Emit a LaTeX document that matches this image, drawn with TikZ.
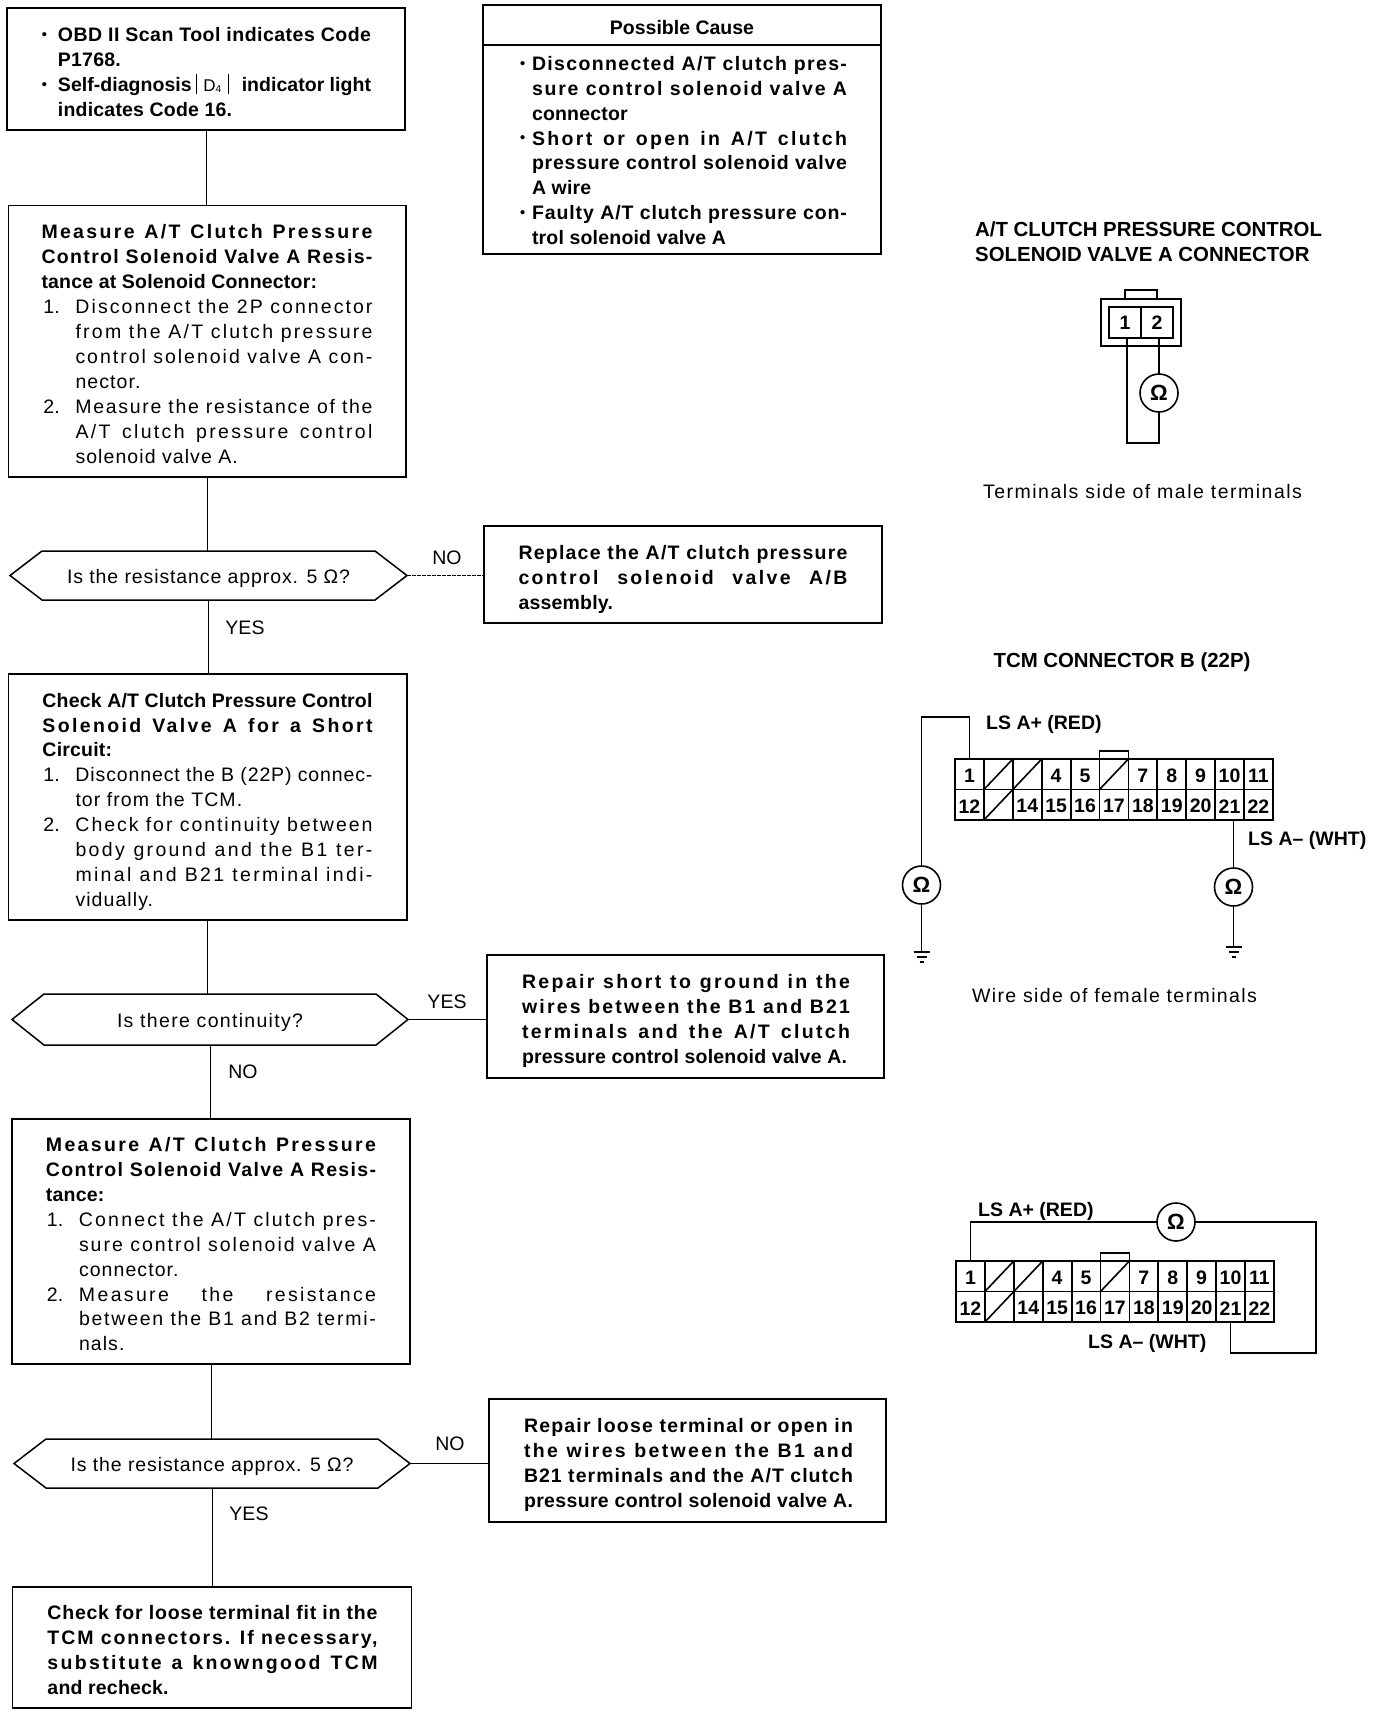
\documentclass[tikz,border=0pt]{standalone}
\usepackage{graphicx}
\usepackage{fontspec}
\setmainfont{Liberation Sans}
\newbox\jbb
\newbox\jba
\newcount\jL
\newcommand\st{\vrule height17pt depth4pt width0pt}
\makeatletter
\newcommand\jbox[2]{\setbox\jbb=\hbox{\addfontfeature{LetterSpace=0}#2}%
  \ifdim\wd\jbb>#1\relax\resizebox{#1}{\height}{\box\jbb}\else
    \setbox\jba=\hbox{\addfontfeature{LetterSpace=10}#2}%
    \jL=\numexpr\dimexpr#1-\wd\jbb\relax*100/\dimexpr\wd\jba-\wd\jbb\relax\relax
    \ifnum\jL>120 \jL=120 \fi
    \edef\jLs{\strip@pt\dimexpr\the\jL pt/10\relax}%
    \edef\jLc{\noexpand\addfontfeature{LetterSpace=\jLs}}%
    \setbox\jbb=\hbox{\jLc #2}%
    \hbox to #1{\unhbox\jbb}\fi}
\makeatother
\def\lsp{1}
\newcommand\Rg{\mdseries\def\lsp{5.5}}
% justified line: indent, width, text
\newcommand\Jl[3]{\hbox to\hsize{\st\hskip#1\relax\jbox{#2}{#3}\hss}}
% plain line: indent, text
\newcommand\Ll[2]{\hbox to\hsize{\st\hskip#1\relax\addfontfeature{LetterSpace=\lsp}#2\hss}}
% justified line with marker: marker, marker offset, indent, width, text
\newcommand\Jx[5]{\hbox to\hsize{\st\hskip#2\relax\hbox to\dimexpr#3-#2\relax{#1\hss}\jbox{#4}{#5}\hss}}
\newcommand\Bx[3][6.5pt]{\vbox{\hsize=#2\relax\baselineskip=24.9pt\lineskiplimit=-20pt\kern#1 #3}}
% node text moved down by half of the kern
\newcommand\Dn[2]{\vbox{\kern#1\hbox{#2}}}
\newcommand\Bul{\raisebox{.2ex}{\scalebox{.75}{\textbullet}}}
\newcommand\Dfour{\rule[-3pt]{1pt}{20pt}\hbox to 31pt{\hss\mdseries\fontsize{17}{17}\selectfont D\raisebox{-1.5pt}{\fontsize{10}{10}\selectfont 4}\hss}\rule[-3pt]{1pt}{20pt}}
\tikzset{
  x=1pt,y=-1pt,
  bline/.style={line width=1.5pt,line join=miter},
  conn/.style={line width=1pt},
  wire/.style={line width=1.7pt},
  reg/.style={font=\fontsize{19.5}{25}\selectfont},
  bld/.style={font=\fontsize{19.5}{25}\selectfont\bfseries},
  ttl/.style={font=\fontsize{20.4}{25}\selectfont\bfseries},
  bx/.style={draw,line width=1.5pt,inner sep=0pt,outer sep=0pt,bld},
  hexn/.style={inner sep=0pt,outer sep=0pt,reg},
  lab/.style={inner sep=0pt,reg},
  blab/.style={inner sep=0pt,bld},
  ohm/.style={draw,circle,line width=1.6pt,minimum size=38pt,inner sep=0pt,outer sep=0pt,font=\fontsize{22}{22}\selectfont\bfseries},
  cell/.style={draw,line width=1.8pt,minimum width=28.9pt,minimum height=30.5pt,inner sep=0pt,outer sep=0pt,font=\fontsize{19.5}{20}\selectfont\bfseries}
}
\newcommand\HX[1]{\draw[bline] (#1.west) -- ([xshift=32pt]#1.north west) -- ([xshift=-32pt]#1.north east) -- (#1.east) -- ([xshift=-32pt]#1.south east) -- ([xshift=32pt]#1.south west) -- cycle;}
\newcommand\GND[1]{\draw[line width=1.2pt] ([xshift=-8pt]#1) -- ([xshift=8pt]#1) ([xshift=-5pt,yshift=-5pt]#1) -- ([xshift=5pt,yshift=-5pt]#1) ([xshift=-2pt,yshift=-10pt]#1) -- ([xshift=2pt,yshift=-10pt]#1);}
\newcommand\TCM[3]{%
  \foreach \n/\t/\c in {1/1/1,2//2,3//3,4/4/4,5/5/5,6//6,7/7/7,8/8/8,9/9/9,10/10/10,11/11/11}
    \node[cell] (#1c\n) at ({#2+(\c-.5)*28.9},{#3+15.25}) {\Dn{3pt}{\t}};
  \foreach \n/\t/\c in {12/12/1,13//2,14/14/3,15/15/4,16/16/5,17/17/6,18/18/7,19/19/8,20/20/9,21/21/10,22/22/11}
    \node[cell] (#1c\n) at ({#2+(\c-.5)*28.9},{#3+45.75}) {\Dn{3pt}{\t}};
  \foreach \n in {2,3,6,13} \draw[line width=1.6pt] (#1c\n.south west) -- (#1c\n.north east);
  \draw[line width=2.3pt] (#1c1.north west) rectangle (#1c22.south east);
  \draw[line width=1.6pt] (#1c6.north west) -- ++(0,-8) -| (#1c6.north east);
}
\begin{document}
\begin{tikzpicture}
\useasboundingbox (0,0) rectangle (1376,1716);
\fill[white] (0,0) rectangle (1376,1716);

% left column
\node[bx,minimum width=398pt,minimum height=122pt] (start) at (206,69) {\Bx{398pt}{%
  \Jx{\Bul}{35pt}{51pt}{313pt}{OBD II Scan Tool indicates Code}
  \Ll{51pt}{P1768.}
  \Jx{\Bul}{35pt}{51pt}{313pt}{Self-diagnosis\hskip4pt\Dfour\hskip13pt indicator light}
  \Ll{51pt}{indicates Code 16.}}};

\node[bx,minimum width=397.5pt,minimum height=271.5pt] (m1) at (207.25,341.25) {\Bx{397.5pt}{%
  \Jl{33pt}{331pt}{Measure A/T Clutch Pressure}
  \Jl{33pt}{331pt}{Control Solenoid Valve A Resis-}
  \Ll{33pt}{tance at Solenoid Connector:}
  \Rg
  \Jx{1.}{35pt}{67pt}{297pt}{Disconnect the 2P connector}
  \Jl{67pt}{297pt}{from the A/T clutch pressure}
  \Jl{67pt}{297pt}{control solenoid valve A con-}
  \Ll{67pt}{nector.}
  \Jx{2.}{35pt}{67pt}{297pt}{Measure the resistance of the}
  \Jl{67pt}{297pt}{A/T clutch pressure control}
  \Ll{67pt}{solenoid valve A.}}};

\node[hexn,minimum width=397pt,minimum height=49pt] (d1) at (208.5,575.5) {\Dn{6pt}{\jbox{283pt}{Is the resistance approx. 5 Ω?}}};
\HX{d1}

\node[bx,minimum width=398pt,minimum height=97pt] (r1) at (683,574.5) {\Bx{398pt}{%
  \Jl{34.5pt}{329pt}{Replace the A/T clutch pressure}
  \Jl{34.5pt}{329pt}{control solenoid valve A/B}
  \Ll{34.5pt}{assembly.}}};

\node[bx,minimum width=398.5pt,minimum height=246pt] (c1) at (207.75,797) {\Bx{398.5pt}{%
  \Jl{34pt}{330pt}{Check A/T Clutch Pressure Control}
  \Jl{34pt}{330pt}{Solenoid Valve A for a Short}
  \Ll{34pt}{Circuit:}
  \Rg
  \Jx{1.}{35pt}{67pt}{297pt}{Disconnect the B (22P) connec-}
  \Ll{67pt}{tor from the TCM.}
  \Jx{2.}{35pt}{67pt}{297pt}{Check for continuity between}
  \Jl{67pt}{297pt}{body ground and the B1 ter-}
  \Jl{67pt}{297pt}{minal and B21 terminal indi-}
  \Ll{67pt}{vidually.}}};

\node[hexn,minimum width=396pt,minimum height=51pt] (d2) at (210,1019.5) {\Dn{6pt}{\jbox{186pt}{Is there continuity?}}};
\HX{d2}

\node[bx,minimum width=397pt,minimum height=123pt] (r2) at (685.5,1016.5) {\Bx{397pt}{%
  \Jl{35pt}{328pt}{Repair short to ground in the}
  \Jl{35pt}{328pt}{wires between the B1 and B21}
  \Jl{35pt}{328pt}{terminals and the A/T clutch}
  \Jl{35pt}{325pt}{pressure control solenoid valve A.}}};

\node[bx,minimum width=398pt,minimum height=245pt] (m2) at (211,1241.5) {\Bx{398pt}{%
  \Jl{34pt}{330pt}{Measure A/T Clutch Pressure}
  \Jl{34pt}{330pt}{Control Solenoid Valve A Resis-}
  \Ll{34pt}{tance:}
  \Rg
  \Jx{1.}{35pt}{67pt}{297pt}{Connect the A/T clutch pres-}
  \Jl{67pt}{297pt}{sure control solenoid valve A}
  \Ll{67pt}{connector.}
  \Jx{2.}{35pt}{67pt}{297pt}{Measure the resistance}
  \Jl{67pt}{297pt}{between the B1 and B2 termi-}
  \Ll{67pt}{nals.}}};

\node[hexn,minimum width=396pt,minimum height=49pt] (d3) at (212,1463.5) {\Dn{6pt}{\jbox{283pt}{Is the resistance approx. 5 Ω?}}};
\HX{d3}

\node[bx,minimum width=397pt,minimum height=123pt] (r3) at (687.5,1460.5) {\Bx{397pt}{%
  \Jl{35pt}{329pt}{Repair loose terminal or open in}
  \Jl{35pt}{329pt}{the wires between the B1 and}
  \Jl{35pt}{329pt}{B21 terminals and the A/T clutch}
  \Jl{35pt}{329pt}{pressure control solenoid valve A.}}};

\node[bx,minimum width=399pt,minimum height=121pt] (last) at (212,1647.5) {\Bx{399pt}{%
  \Jl{35pt}{330pt}{Check for loose terminal fit in the}
  \Jl{35pt}{330pt}{TCM connectors. If necessary,}
  \Jl{35pt}{330pt}{substitute a knowngood TCM}
  \Ll{35pt}{and recheck.}}};

% possible cause
\node[bx,minimum width=398pt,minimum height=40pt] (pch) at (682,25) {\Dn{6pt}{Possible Cause}};
\node[bx,minimum width=398pt,minimum height=209pt,anchor=north] (pc) at (pch.south) {\Bx[3pt]{398pt}{%
  \Jx{\Bul}{37pt}{49pt}{315pt}{Disconnected A/T clutch pres-}
  \Jl{49pt}{315pt}{sure control solenoid valve A}
  \Ll{49pt}{connector}
  \Jx{\Bul}{37pt}{49pt}{315pt}{Short or open in A/T clutch}
  \Jl{49pt}{315pt}{pressure control solenoid valve}
  \Ll{49pt}{A wire}
  \Jx{\Bul}{37pt}{49pt}{315pt}{Faulty A/T clutch pressure con-}
  \Ll{49pt}{trol solenoid valve A}}};

% flow connectors
\draw[conn] (start.south) -- (start.south |- m1.north);
\draw[conn] (m1.south) -- (m1.south |- d1.north);
\draw[conn] (d1.south) -- (d1.south |- c1.north);
\draw[conn] (c1.south) -- (c1.south |- d2.north);
\draw[conn] (d2.south) -- (d2.south |- m2.north);
\draw[conn] (m2.south) -- (m2.south |- d3.north);
\draw[conn] (d3.south) -- (d3.south |- last.north);
\draw[conn,dash pattern=on 4pt off 1pt] (d1.east) -- (d1.east -| r1.west);
\draw[conn] (d2.east) -- (d2.east -| r2.west);
\draw[conn] (d3.east) -- (d3.east -| r3.west);

% flow labels
\node[lab] (no1) at (447,558) {NO};
\node[lab] (yes1) at (245,628) {YES};
\node[lab] (yes2) at (447,1002) {YES};
\node[lab] (no2) at (243,1072) {NO};
\node[lab] (no3) at (450,1444) {NO};
\node[lab] (yes3) at (249,1514) {YES};

% solenoid connector
\node[inner sep=0pt,ttl,align=left,anchor=west] (t1) at (975,242) {A/T CLUTCH PRESSURE CONTROL\\SOLENOID VALVE A CONNECTOR};
\node[draw,line width=2pt,minimum width=80pt,minimum height=47pt,inner sep=0pt,outer sep=0pt] (sol) at (1141,322.5) {};
\draw[line width=1.4pt] (1125,299) -- (1125,290) -- (1157,290) -- (1157,299);
\node[cell,line width=2pt,minimum width=32pt,minimum height=31pt] (p1) at (1125,322.5) {1};
\node[cell,line width=2pt,minimum width=32pt,minimum height=31pt] (p2) at (1157,322.5) {2};
\node[ohm] (o0) at (1159,393) {Ω};
\coordinate (w0) at (1127,443);
\draw[wire] (o0.north |- p2.south) -- (o0.north);
\draw[line width=2pt] (w0 |- p1.south) -- (w0) -- (w0 -| o0.south) -- (o0.south);
\node[lab] (t1b) at (1142.5,492) {\jbox{319pt}{Terminals side of male terminals}};

% TCM top
\node[inner sep=0pt,ttl] (t2) at (1122,662) {TCM CONNECTOR B (22P)};
\TCM{a}{955}{759}
\node[ohm] (o1) at (921.5,885) {Ω};
\node[ohm] (o2) at (1233.5,887) {Ω};
\coordinate (w1) at (921.5,717);
\coordinate (g1) at (921.5,952);
\coordinate (g2) at (1233.5,947);
\draw[wire] (ac1.north) |- (w1) -- (o1.north);
\draw[wire] (o1.south) -- (g1);
\draw[wire] (o2.north |- ac21.south) -- (o2.north);
\draw[wire] (o2.south) -- (g2);
\GND{g1}
\GND{g2}
\node[blab,anchor=west] (l1) at (986,724) {LS A+ (RED)};
\node[blab,anchor=west] (l2) at (1248,840) {LS A– (WHT)};
\node[lab] (t2b) at (1114.5,996) {\jbox{285pt}{Wire side of female terminals}};

% TCM bottom
\TCM{b}{956}{1261}
\node[ohm] (o3) at (1176,1222) {Ω};
\coordinate (w3b) at (1316,1222);
\coordinate (w3c) at (1316,1353);
\draw[wire] (bc1.north) |- (o3.west);
\draw[wire] (o3.east) -- (w3b) -- (w3c) -| (bc21.south);
\node[blab,anchor=west] (l3) at (978,1211) {LS A+ (RED)};
\node[blab,anchor=west] (l4) at (1088,1343) {LS A– (WHT)};
\end{tikzpicture}
\end{document}
